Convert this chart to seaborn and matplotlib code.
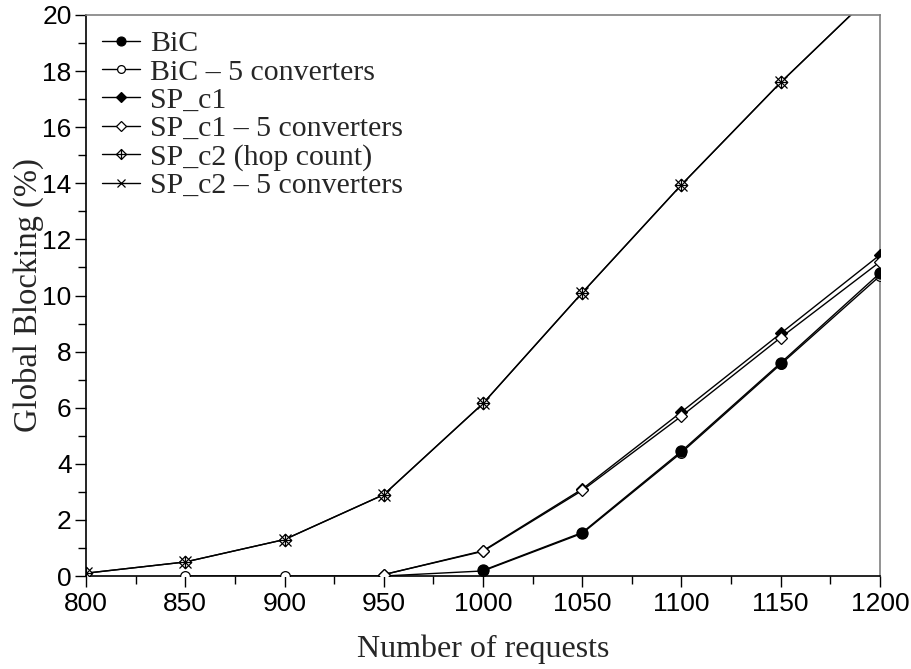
import numpy as np
import pandas as pd
import matplotlib
matplotlib.use("Agg")
import matplotlib.pyplot as plt
from matplotlib.path import Path
from matplotlib.ticker import MultipleLocator
import seaborn as sns

nan = np.nan

# Blocking probability (%) versus offered number of requests
requests = [800, 850, 900, 950, 1000, 1050, 1100, 1150, 1200]
bic = [nan, nan, nan, nan, 0.2, 1.55, 4.45, 7.6, 10.8]
bic_5conv = [nan, 0.0, 0.0, 0.0, 0.18, 1.52, 4.4, 7.55, 10.7]
sp_c1 = [nan, nan, nan, 0.05, 0.9, 3.1, 5.85, 8.65, 11.45]
sp_c1_5conv = [nan, nan, nan, 0.05, 0.88, 3.05, 5.7, 8.5, 11.2]
sp_c2_hop = [0.1, 0.5, 1.3, 2.9, 6.15, 10.1, 13.95, 17.6, 21.0]
sp_c2_5conv = [0.1, 0.5, 1.3, 2.9, 6.15, 10.1, 13.95, 17.6, 21.0]

series_names = ["BiC", "BiC \u2013 5 converters", "SP_c1", "SP_c1 \u2013 5 converters",
                "SP_c2 (hop count)", "SP_c2 \u2013 5 converters"]
series_values = [bic, bic_5conv, sp_c1, sp_c1_5conv, sp_c2_hop, sp_c2_5conv]

df = pd.DataFrame({
    "requests": np.tile(requests, len(series_names)),
    "blocking": np.concatenate(series_values),
    "series": np.repeat(series_names, len(requests)),
})

# diamond with an inner cross
diamond_plus = Path(
    [(0, 1), (1, 0), (0, -1), (-1, 0), (0, 1), (0, 1), (0, -1), (-1, 0), (1, 0)],
    [Path.MOVETO, Path.LINETO, Path.LINETO, Path.LINETO, Path.CLOSEPOLY,
     Path.MOVETO, Path.LINETO, Path.MOVETO, Path.LINETO],
)

styles = {
    "BiC": dict(marker="o", mfc="black", ms=8, z=3.2),
    "BiC \u2013 5 converters": dict(marker="o", mfc="white", ms=7, z=3.1),
    "SP_c1": dict(marker="D", mfc="black", ms=6.5, z=3.3),
    "SP_c1 \u2013 5 converters": dict(marker="D", mfc="white", ms=6.5, z=3.4),
    "SP_c2 (hop count)": dict(marker=diamond_plus, mfc="white", ms=9, z=3.5),
    "SP_c2 \u2013 5 converters": dict(marker="x", mfc="black", ms=8, z=3.6),
}

sns.set_style("ticks")
plt.rcParams["font.family"] = ["Liberation Sans", "DejaVu Sans"]

fig = plt.figure(figsize=(9.12, 6.69), dpi=100)
ax = fig.add_axes([86 / 912, 93 / 669, 794 / 912, 561 / 669])

sns.lineplot(data=df.dropna(), x="requests", y="blocking", hue="series",
             hue_order=series_names, palette=["black"] * 6, legend=False,
             linewidth=1.0, ax=ax)

handles = []
for name in series_names:
    st = styles[name]
    sub = df[df["series"] == name]
    ax.plot(sub["requests"], sub["blocking"], linestyle="none",
            marker=st["marker"], markersize=st["ms"],
            markerfacecolor=st["mfc"], markeredgecolor="black",
            markeredgewidth=0.9, color="black", zorder=st["z"])
    lh, = ax.plot([], [], color="black", linewidth=1.0, marker=st["marker"],
                  markersize=st["ms"] * 0.8, markerfacecolor=st["mfc"],
                  markeredgecolor="black", markeredgewidth=0.9)
    handles.append(lh)

ax.set_xlim(800, 1200)
ax.set_ylim(0, 20)
ax.xaxis.set_major_locator(MultipleLocator(50))
ax.xaxis.set_minor_locator(MultipleLocator(25))
ax.yaxis.set_major_locator(MultipleLocator(2))
ax.yaxis.set_minor_locator(MultipleLocator(1))
ax.tick_params(axis="both", which="major", direction="out", length=7.8, width=1.0,
               labelsize=19, color="black", labelcolor="black")
ax.tick_params(axis="both", which="minor", direction="out", length=5.8, width=1.0,
               color="black")
ax.tick_params(axis="x", pad=4)
ax.tick_params(axis="y", pad=2.5)

for side in ("left", "bottom"):
    ax.spines[side].set_color("black")
    ax.spines[side].set_linewidth(1.2)
for side in ("top", "right"):
    ax.spines[side].set_visible(True)
    ax.spines[side].set_color("#808080")
    ax.spines[side].set_linewidth(1.2)

serif = ["Liberation Serif", "DejaVu Serif"]
ax.set_xlabel("Number of requests", fontsize=23, family=serif, labelpad=13)
ax.set_ylabel("Global Blocking (%)", fontsize=23.5, family=serif, labelpad=-1)

leg = ax.legend(handles, series_names, loc="upper left", frameon=False,
                prop={"family": serif, "size": 21.5}, handlelength=1.28,
                handletextpad=0.34, labelspacing=0.045,
                borderaxespad=0.1, borderpad=0.42)

fig.savefig("out.png", dpi=100)
